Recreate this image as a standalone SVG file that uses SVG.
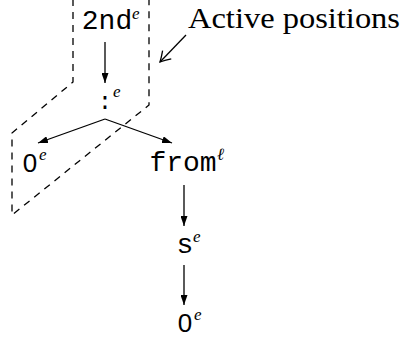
<svg xmlns="http://www.w3.org/2000/svg" width="404" height="342" viewBox="0 0 404 342">
  <style>
    .tt { font-family: "Liberation Mono", "DejaVu Sans Mono", monospace; font-size: 28px; fill: #000; text-anchor: middle; }
    .zero { font-family: "Liberation Sans", "Noto Sans", sans-serif; font-size: 26px; fill: #000; text-anchor: middle; }
    .sup { font-family: "Liberation Serif", "DejaVu Serif", serif; font-style: italic; font-size: 17px; fill: #000; }
    .rm { font-family: "Liberation Serif", "DejaVu Serif", serif; font-size: 30px; fill: #000; }
    .edge { stroke: #000; stroke-width: 1.3; fill: none; }
    .dash { stroke: #000; stroke-width: 1.3; fill: none; stroke-dasharray: 7 6; }
  </style>
  <defs>
    <marker id="tip" markerWidth="10" markerHeight="7" refX="10" refY="3.5" orient="auto" markerUnits="userSpaceOnUse">
      <path d="M0,0 L10,3.5 L0,7 z" fill="#000"/>
    </marker>
    <marker id="open" markerWidth="14" markerHeight="14" refX="12" refY="7" orient="auto" markerUnits="userSpaceOnUse">
      <path d="M2,1 Q8,5 12,7 Q8,9 2,13" fill="none" stroke="#000" stroke-width="1.3"/>
    </marker>
  </defs>
  <rect width="404" height="342" fill="#fff"/>

  <!-- region of active positions -->
  <path id="active-region" class="dash" d="M73,-1 V82 L12,133 V215 L149,105 V-1"/>

  <g id="connectors">
    <line class="edge" x1="105" y1="42" x2="105" y2="83" marker-end="url(#tip)"/>
    <line class="edge" x1="105" y1="119" x2="38" y2="143" marker-end="url(#tip)"/>
    <line class="edge" x1="105" y1="119" x2="172" y2="143" marker-end="url(#tip)"/>
    <line class="edge" x1="184" y1="185" x2="184" y2="226" marker-end="url(#tip)"/>
    <line class="edge" x1="184" y1="265" x2="184" y2="305" marker-end="url(#tip)"/>
    <line class="edge" x1="186" y1="35" x2="160" y2="62" marker-end="url(#open)"/>
  </g>

  <g id="node-2nd">
    <text class="tt" x="107" y="29">2nd</text>
    <text class="sup" x="132" y="19">e</text>
  </g>
  <g id="node-cons">
    <text class="tt" x="105" y="109" style="font-size:24px">:</text>
    <text class="sup" x="113" y="97">e</text>
  </g>
  <g id="node-zero-left">
    <text class="zero" x="30" y="172">0</text>
    <text class="sup" x="39" y="160">e</text>
  </g>
  <g id="node-from">
    <text class="tt" x="183" y="171">from</text>
    <text class="sup" x="217" y="160">ℓ</text>
  </g>
  <g id="node-s">
    <text class="tt" x="185" y="253">s</text>
    <text class="sup" x="193" y="242">e</text>
  </g>
  <g id="node-zero-bottom">
    <text class="zero" x="185" y="332">0</text>
    <text class="sup" x="194" y="320">e</text>
  </g>

  <g id="label-active">
    <text class="rm" x="188" y="28" textLength="212" lengthAdjust="spacingAndGlyphs">Active positions</text>
  </g>
</svg>
